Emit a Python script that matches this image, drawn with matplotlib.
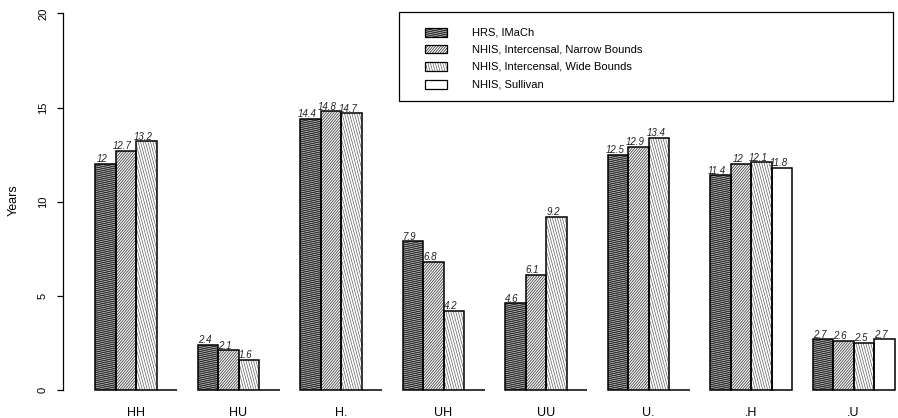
import matplotlib
matplotlib.use('Agg')
import matplotlib.pyplot as plt
import numpy as np
from matplotlib.patches import Rectangle
from matplotlib.collections import LineCollection
from matplotlib.transforms import IdentityTransform

plt.rcParams['font.family'] = ['Liberation Sans', 'DejaVu Sans']

groups = ['HH', 'HU', 'H.', 'UH', 'UU', 'U.', '.H', '.U']
hrs_imach = [12, 2.4, 14.4, 7.9, 4.6, 12.5, 11.4, 2.7]
nhis_narrow = [12.7, 2.1, 14.8, 6.8, 6.1, 12.9, 12, 2.6]
nhis_wide = [13.2, 1.6, 14.7, 4.2, 9.2, 13.4, 12.1, 2.5]
nhis_sullivan = [0, 0, 0, 0, 0, 0, 11.8, 2.7]
series_names = ['HRS, IMaCh', 'NHIS, Intercensal, Narrow Bounds',
                'NHIS, Intercensal, Wide Bounds', 'NHIS, Sullivan']
yticks = [0, 5, 10, 15, 20]

series = [hrs_imach, nhis_narrow, nhis_wide, nhis_sullivan]
# (angle, spacing px, linewidth pt, colour) for each series; None = plain white
hatch_styles = [(12, 2.0, 1.1, '#303030'),
                (50, 2.0, 0.6, '#444444'),
                (-75, 2.4, 0.45, '#555555'),
                None]

W, H = 898, 418
fig = plt.figure(figsize=(W / 100, H / 100), dpi=100)

# axes geometry in pixels
ax_left_px, ax_right_px = 62.7, 898
ax_top_px, ax_bot_px = 0, 405
ax = fig.add_axes([ax_left_px / W, 1 - ax_bot_px / H,
                   (ax_right_px - ax_left_px) / W, (ax_bot_px - ax_top_px) / H])
ax.set_xlim(-0.576, 40.17)
ax.set_ylim(-0.797, 20.71)


def add_hatch(patch, angle, spacing, lw, color, zorder, is_fig=False):
    bb = patch.get_extents()
    if bb.height < 1:
        return
    cx, cy = (bb.x0 + bb.x1) / 2, (bb.y0 + bb.y1) / 2
    L = np.hypot(bb.width, bb.height) / 2 + spacing
    th = np.deg2rad(angle)
    d = np.array([np.cos(th), np.sin(th)])
    n = np.array([-np.sin(th), np.cos(th)])
    c = np.array([cx, cy])
    segs = []
    for t in np.arange(-L, L + spacing, spacing):
        p = c + t * n
        segs.append([p - L * d, p + L * d])
    lc = LineCollection(segs, colors=color, linewidths=lw,
                        transform=IdentityTransform(), zorder=zorder)
    lc.set_clip_path(patch.get_path(), patch.get_transform())
    if is_fig:
        fig.add_artist(lc)
    else:
        ax.add_collection(lc, autolim=False)


ngroups = len(groups)
nser = len(series)
group_left = np.arange(ngroups) * (nser + 1) + 1

for j, vals in enumerate(series):
    xs = group_left + j + 0.5
    bars = ax.bar(xs, vals, width=1.0, color='white', edgecolor='none',
                  linewidth=0, zorder=1)
    ax.bar(xs, vals, width=1.0, color='none', edgecolor='black',
           linewidth=1.1, zorder=3)
    st = hatch_styles[j]
    if st is not None:
        for b in bars:
            add_hatch(b, st[0], st[1], st[2], st[3], zorder=2)
    for x, v in zip(xs, vals):
        if v > 0:
            ax.text(x - 0.15, v - 0.02, f'{v:g}', ha='center', va='bottom',
                    fontsize=7, style='italic', color='#222222', zorder=4)

# axes styling
for s in ['top', 'right', 'bottom']:
    ax.spines[s].set_visible(False)
ax.spines['left'].set_bounds(0, 20)
ax.spines['left'].set_linewidth(0.9)
ax.set_yticks(yticks)
ax.set_yticklabels([str(t) for t in yticks], rotation=90, va='center', fontsize=8)
ax.tick_params(axis='y', direction='out', length=4.3, width=0.9, pad=6.3)
ax.set_xticks(group_left + nser / 2)
ax.set_xticklabels(groups, fontsize=9)
ax.tick_params(axis='x', length=0, pad=1.2)
ax.set_ylabel('Years', fontsize=9)
ax.yaxis.set_label_coords((20 - ax_left_px) / (ax_right_px - ax_left_px),
                          (ax_bot_px - 200) / (ax_bot_px - ax_top_px))
ax.patch.set_alpha(0)


def fx(px):
    return px / W


def fy(py):
    return 1 - py / H


# legend box
fig.add_artist(Rectangle((fx(399), fy(101)), fx(893) - fx(399), fy(12) - fy(101),
                         transform=fig.transFigure, facecolor='none',
                         edgecolor='black', linewidth=0.9, zorder=5))
row_y = [32.5, 49.0, 66.3, 84.3]
for j, name in enumerate(series_names):
    yc = row_y[j]
    sw = Rectangle((fx(425), fy(yc + 4.3)), fx(447) - fx(425), fy(yc - 4.3) - fy(yc + 4.3),
                   transform=fig.transFigure, facecolor='white', edgecolor='none', zorder=5)
    fig.add_artist(sw)
    st = hatch_styles[j]
    if st is not None:
        add_hatch(sw, st[0], st[1], st[2], st[3], zorder=6, is_fig=True)
    fig.add_artist(Rectangle((fx(425), fy(yc + 4.3)), fx(447) - fx(425), fy(yc - 4.3) - fy(yc + 4.3),
                             transform=fig.transFigure, facecolor='none',
                             edgecolor='black', linewidth=0.9, zorder=7))
    fig.text(fx(471.7), fy(yc), name, ha='left', va='center', fontsize=8, zorder=7)

fig.savefig('out.png', dpi=100)
